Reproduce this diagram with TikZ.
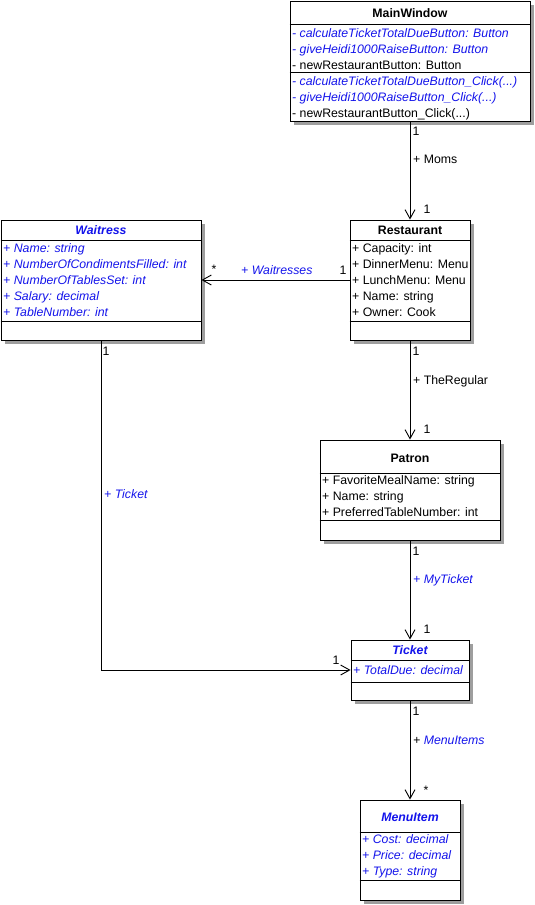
\documentclass[tikz,border=0pt]{standalone}
\usepackage{fontspec}
\setmainfont{Liberation Sans}
\usepackage{xcolor}
\usetikzlibrary{arrows.meta, shadows}

\definecolor{umlblue}{RGB}{20,20,235}

\begin{document}
\begin{tikzpicture}[x=1pt, y=-1pt,
  every node/.style={font=\fontsize{12.3}{14}\selectfont, inner sep=0pt},
  classbox/.style={draw, fill=white, line width=0.9pt, drop shadow={shadow xshift=4pt, shadow yshift=-4pt, fill=black!38, opacity=1}},
  classname/.style={anchor=base, font=\fontsize{12.3}{14}\selectfont\bfseries},
  member/.style={anchor=base west},
  virt/.style={text=umlblue, font=\fontsize{12.3}{14}\selectfont\itshape},
  absname/.style={anchor=base, text=umlblue, font=\fontsize{12.3}{14}\selectfont\bfseries\itshape},
  sep/.style={line width=0.9pt},
  assoc/.style={line width=0.9pt, -{Straight Barb[length=9pt, width=10pt, line width=0.9pt]}},
  mult/.style={}]
  \useasboundingbox (0,0) rectangle (535,905);

  % MainWindow
  \node[classbox, minimum width=240pt, minimum height=120pt] (mainwin) at (410,61) {};
  \node[classname] (mainwinT) at (410,17) {MainWindow};
  \draw[sep] (mainwin.west |- 0,24) -- (mainwin.east |- 0,24);
  \draw[sep] (mainwin.west |- 0,72) -- (mainwin.east |- 0,72);
  \node[member, virt] (mw1) at (292,37.5) {- calculateTicketTotalDueButton: Button};
  \node[member, virt] (mw2) at (292,53.5) {- giveHeidi1000RaiseButton: Button};
  \node[member] (mw3) at (292,69.5) {- newRestaurantButton: Button};
  \node[member, virt] (mw4) at (292,85.5) {- calculateTicketTotalDueButton\_Click(...)};
  \node[member, virt] (mw5) at (292,101.5) {- giveHeidi1000RaiseButton\_Click(...)};
  \node[member] (mw6) at (292,117.5) {- newRestaurantButton\_Click(...)};

  % Waitress
  \node[classbox, minimum width=200pt, minimum height=120pt] (waitress) at (101,280) {};
  \node[absname] (waitressT) at (101,234.5) {Waitress};
  \draw[sep] (waitress.west |- 0,240) -- (waitress.east |- 0,240);
  \draw[sep] (waitress.west |- 0,321) -- (waitress.east |- 0,321);
  \foreach \txt [count=\i] in {+ Name: string, + NumberOfCondimentsFilled: int, + NumberOfTablesSet: int, + Salary: decimal, + TableNumber: int}
    \node[member, virt] (wa\i) at (3,236.5+16*\i) {\txt};

  % Restaurant
  \node[classbox, minimum width=120pt, minimum height=120pt] (restaurant) at (410,280) {};
  \node[classname] (restaurantT) at (410,234.5) {Restaurant};
  \draw[sep] (restaurant.west |- 0,240) -- (restaurant.east |- 0,240);
  \draw[sep] (restaurant.west |- 0,321) -- (restaurant.east |- 0,321);
  \foreach \txt [count=\i] in {+ Capacity: int, + DinnerMenu: Menu, + LunchMenu: Menu, + Name: string, + Owner: Cook}
    \node[member] (re\i) at (352,236.5+16*\i) {\txt};

  % Patron
  \node[classbox, minimum width=180pt, minimum height=100pt] (patron) at (410,490) {};
  \node[classname] (patronT) at (410,462) {Patron};
  \draw[sep] (patron.west |- 0,473) -- (patron.east |- 0,473);
  \draw[sep] (patron.west |- 0,520) -- (patron.east |- 0,520);
  \foreach \txt [count=\i] in {+ FavoriteMealName: string, + Name: string, + PreferredTableNumber: int}
    \node[member] (pa\i) at (322,468.5+16*\i) {\txt};

  % Ticket
  \node[classbox, minimum width=118pt, minimum height=60pt] (ticket) at (410,670) {};
  \node[absname] (ticketT) at (410,654.5) {Ticket};
  \draw[sep] (ticket.west |- 0,660) -- (ticket.east |- 0,660);
  \draw[sep] (ticket.west |- 0,682) -- (ticket.east |- 0,682);
  \node[member, virt] (ti1) at (353,674.5) {+ TotalDue: decimal};

  % MenuItem
  \node[classbox, minimum width=100pt, minimum height=100pt] (menuitem) at (410,850) {};
  \node[absname] (menuitemT) at (410,821) {MenuItem};
  \draw[sep] (menuitem.west |- 0,832) -- (menuitem.east |- 0,832);
  \draw[sep] (menuitem.west |- 0,880) -- (menuitem.east |- 0,880);
  \foreach \txt [count=\i] in {+ Cost: decimal, + Price: decimal, + Type: string}
    \node[member, virt] (mi\i) at (362,827.5+16*\i) {\txt};

  % associations
  \draw[assoc] (mainwin) -- (restaurant);
  \node[mult] (momsA) at (416,131) {1};
  \node[member] (moms) at (413,163.5) {+ Moms};
  \node[mult] (momsB) at (427,209) {1};

  \draw[assoc] (restaurant) -- (patron);
  \node[mult] (regA) at (416,351) {1};
  \node[member] (reg) at (413,384.5) {+ TheRegular};
  \node[mult] (regB) at (427,429) {1};

  \draw[assoc] (patron) -- (ticket);
  \node[mult] (myA) at (416,551) {1};
  \node[member, virt] (my) at (413,583.5) {+ MyTicket};
  \node[mult] (myB) at (427,629) {1};

  \draw[assoc] (ticket) -- (menuitem);
  \node[mult] (itA) at (416,711) {1};
  \node[member, virt] (it) at (413,744.5) {\textcolor{black}{+} MenuItems};
  \node[mult] (itB) at (426,790) {*};

  \draw[assoc] (restaurant) -- (waitress);
  \node[mult] (wsA) at (343,270) {1};
  \node[member, virt] (ws) at (241,274.5) {+ Waitresses};
  \node[mult] (wsB) at (214,269) {*};

  \draw[assoc] (waitress) |- (ticket);
  \node[mult] (tkA) at (106,351) {1};
  \node[member, virt] (tk) at (104,498.5) {+ Ticket};
  \node[mult] (tkB) at (336,660) {1};
\end{tikzpicture}
\end{document}
